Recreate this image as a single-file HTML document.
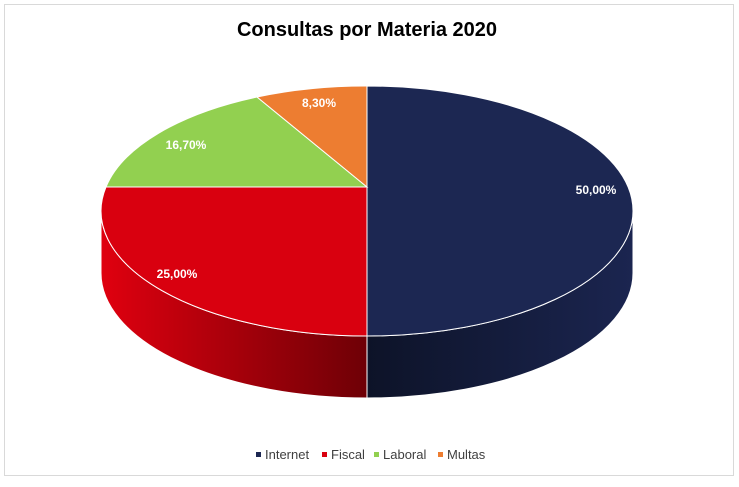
<!DOCTYPE html>
<html><head><meta charset="utf-8"><style>
body{margin:0;background:#fff;width:739px;height:482px;overflow:hidden;font-family:"Liberation Sans",sans-serif}
</style></head><body>
<svg width="739" height="482" viewBox="0 0 739 482" xmlns="http://www.w3.org/2000/svg">
<defs>
<linearGradient id="gr" x1="0" x2="1" y1="0" y2="0"><stop offset="0" stop-color="#e0000f"/><stop offset="1" stop-color="#6e0006"/></linearGradient>
<linearGradient id="gb" x1="0" x2="1" y1="0" y2="0"><stop offset="0" stop-color="#0d1328"/><stop offset="1" stop-color="#1b2550"/></linearGradient>
</defs>
<rect x="4.5" y="4.5" width="729" height="471" fill="#fff" stroke="#d9d9d9"/>
<text x="367" y="36" text-anchor="middle" font-size="20" font-weight="bold" fill="#000">Consultas por Materia 2020</text>
<!-- sides -->
<path d="M101,211 A266,125 0 0 0 367,336 L367,398 A266,125 0 0 1 101,273 Z" fill="url(#gr)" stroke="#fff" stroke-width="1"/>
<path d="M367,336 A266,125 0 0 0 633,211 L633,273 A266,125 0 0 1 367,398 Z" fill="url(#gb)" stroke="#fff" stroke-width="1"/>
<!-- top -->
<path d="M367,187 L367,86 A266,125 0 0 1 367,336 Z" fill="#1c2752" stroke="#fff"/>
<path d="M367,187 L367,336 A266,125 0 0 1 106,187 Z" fill="#d9000f" stroke="#fff"/>
<path d="M367,187 L106,187 A266,125 0 0 1 257,97 Z" fill="#92d050" stroke="#fff"/>
<path d="M367,187 L257,97 A266,125 0 0 1 367,86 Z" fill="#ed7d31" stroke="#fff"/>
<g font-size="12" font-weight="bold" fill="#fff" text-anchor="middle">
<text x="596" y="194">50,00%</text>
<text x="177" y="278">25,00%</text>
<text x="186" y="149">16,70%</text>
<text x="319" y="107">8,30%</text>
</g>
<g font-size="13" fill="#404040">
<rect x="256" y="452" width="5" height="5" fill="#1c2752"/><text x="265" y="459">Internet</text>
<rect x="322" y="452" width="5" height="5" fill="#d9000f"/><text x="331" y="459">Fiscal</text>
<rect x="374" y="452" width="5" height="5" fill="#92d050"/><text x="383" y="459">Laboral</text>
<rect x="438" y="452" width="5" height="5" fill="#ed7d31"/><text x="447" y="459">Multas</text>
</g>
</svg>
</body></html>
